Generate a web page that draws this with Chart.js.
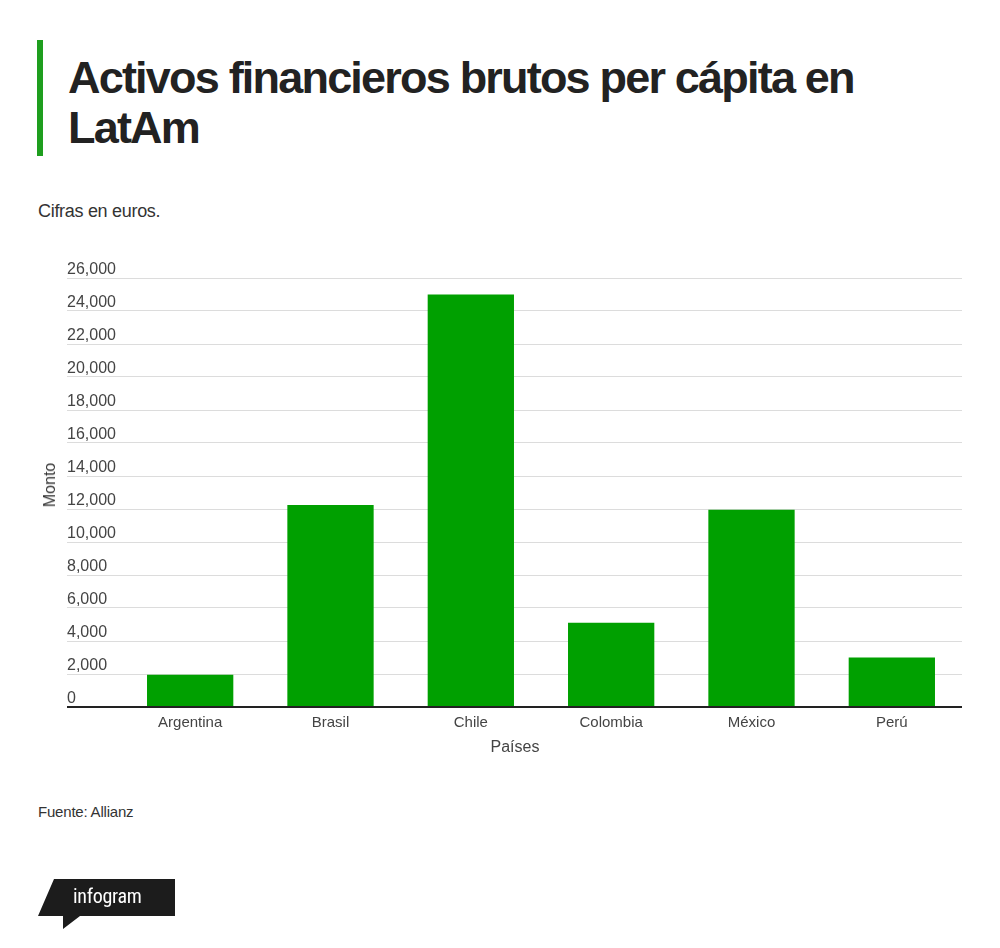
<!DOCTYPE html>
<html lang="es">
<head>
<meta charset="utf-8">
<title>Activos financieros brutos per cápita en LatAm</title>
<script src="https://cdn.jsdelivr.net/npm/chart.js@4.4.1/dist/chart.umd.min.js"></script>
<style>
  html, body { margin: 0; padding: 0; background: #fff; }
  body { width: 1000px; height: 948px; position: relative; overflow: hidden;
         font-family: 'Liberation Sans', Arial, sans-serif; color: #222; }
  .bar-accent { position: absolute; left: 37px; top: 40px; width: 6px; height: 116px; background: #1e9e1e; }
  h1 { position: absolute; left: 68px; top: 53px; margin: 0; width: 900px;
       font-size: 45px; line-height: 50px; font-weight: 700; letter-spacing: -1.8px; color: #222; }
  .sub { position: absolute; left: 38px; top: 201px; font-size: 18px; letter-spacing: -0.3px; color: #333; }
  .ytitle { position: absolute; left: 50px; top: 485px; font-size: 16px; color: #333;
            transform: translate(-50%, -50%) rotate(-90deg); white-space: nowrap; }
  .xtitle { position: absolute; left: 515px; top: 747px; font-size: 16px; color: #444;
            transform: translate(-50%, -50%); white-space: nowrap; }
  .src { position: absolute; left: 38px; top: 803px; font-size: 15px; letter-spacing: -0.2px; color: #333; }
  #wrap { position: absolute; left: 0; top: 250px; }
  .logo { position: absolute; left: 0; top: 0; }
</style>
</head>
<body>
<div class="bar-accent"></div>
<h1>Activos financieros brutos per cápita en LatAm</h1>
<div class="sub">Cifras en euros.</div>

<div id="wrap"><canvas id="bar-chart" width="1000" height="507"></canvas></div>
<div class="ytitle">Monto</div>
<div class="xtitle">Países</div>

<div class="src">Fuente: Allianz</div>

<svg class="logo" width="1000" height="948" viewBox="0 0 1000 948">
  <polygon points="54,879 175,879 175,916 80,916 63,929 63,916 38,916" fill="#1c1c1c"/>
  <text x="73" y="903" fill="#fff" font-family="Roboto, 'DejaVu Sans', sans-serif"
        font-size="20" font-stretch="condensed" letter-spacing="-0.3">infogram</text>
</svg>

<script>
// datos (euros per cápita)
const paises = ["Argentina", "Brasil", "Chile", "Colombia", "México", "Perú"];
const montos = [1950, 12250, 25000, 5100, 11950, 3000];
const yMin = 0;
const yMax = 26000;
const yPaso = 2000;

Chart.defaults.font.family = "'Liberation Sans', Arial, sans-serif";

var barChart = new Chart(document.getElementById("bar-chart"), {
    type: 'bar',
    data: {
        labels: paises,
        datasets: [{
            label: "Monto",
            data: montos,
            backgroundColor: "#00a000",
            borderWidth: 0,
            barPercentage: 0.615,
            categoryPercentage: 1
        }]
    },
    options: {
        responsive: false,
        animation: false,
        layout: { padding: { left: 67, right: 38, top: 28, bottom: 0 } },
        plugins: {
            legend: { display: false },
            tooltip: { enabled: false }
        },
        scales: {
            x: {
                grid: { display: false, drawTicks: false },
                border: { display: false },
                ticks: { color: "#444", font: { size: 15 }, padding: 7, maxRotation: 0 },
                afterFit: function(scale) { scale.height = 50; }
            },
            y: {
                min: yMin,
                max: yMax,
                border: { display: false },
                grid: {
                    drawTicks: true,
                    tickLength: 53,
                    // línea base negra en cero
                    color: function(ctx) { return ctx.tick && ctx.tick.value === 0 ? "#222" : "#dcdcdc"; },
                    lineWidth: function(ctx) { return ctx.tick && ctx.tick.value === 0 ? 2 : 1; }
                },
                ticks: {
                    stepSize: yPaso,
                    color: "#444",
                    font: { size: 16 },
                    padding: 0,
                    crossAlign: 'far',
                    labelOffset: -8
                },
                afterFit: function(scale) { scale.width = 53; }
            }
        }
    }
});
</script>
</body>
</html>
